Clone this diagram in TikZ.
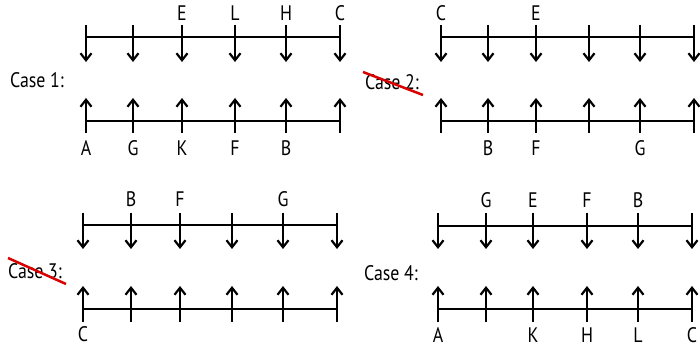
\documentclass[tikz,border=0pt]{standalone}
\usepackage{fontspec}
\setmainfont[FakeStretch=0.85]{PT Sans}
\usetikzlibrary{arrows.meta}
\tikzset{
  flow/.style={line width=2.2pt, -{Straight Barb[length=7pt,width=11pt,line width=2.2pt]}},
  axis/.style={line width=2.2pt},
  lbl/.style={font=\fontsize{21}{24}\selectfont, inner sep=0pt},
  strike/.style={red!85!black, line width=2.5pt}
}

\begin{document}
\begin{tikzpicture}[x=1pt,y=-1pt]
\useasboundingbox (0,0) rectangle (700,352);

% case 1
\foreach \x [count=\i] in {86,133,182,235,286,340} {
  \coordinate (p1t\i) at (\x,25);
  \coordinate (p1d\i) at (\x,62);
  \coordinate (p1u\i) at (\x,98);
  \coordinate (p1b\i) at (\x,133);
  \draw[flow] (p1t\i) -- (p1d\i);
  \draw[flow] (p1b\i) -- (p1u\i);
}
\coordinate (p1l) at (86,37);   \coordinate (p1r) at (340,37);
\coordinate (p1ll) at (86,121); \coordinate (p1rr) at (340,121);
\draw[axis] (p1l) -- (p1r);
\draw[axis] (p1ll) -- (p1rr);
\foreach \n/\t in {3/E,4/L,5/H,6/C}
  \node[lbl] (c1up\n) at ([yshift=12pt]p1t\n) {\t};
\foreach \n/\t in {1/A,2/G,3/K,4/F,5/B}
  \node[lbl] (c1dn\n) at ([yshift=-15pt]p1b\n) {\t};
\node[lbl] (case1) at (37,80) {Case 1:};

% case 2
\foreach \x [count=\i] in {441,488,536,589,640,694} {
  \coordinate (p2t\i) at (\x,25);
  \coordinate (p2d\i) at (\x,62);
  \coordinate (p2u\i) at (\x,98);
  \coordinate (p2b\i) at (\x,133);
  \draw[flow] (p2t\i) -- (p2d\i);
  \draw[flow] (p2b\i) -- (p2u\i);
}
\coordinate (p2l) at (441,37);   \coordinate (p2r) at (694,37);
\coordinate (p2ll) at (441,121); \coordinate (p2rr) at (694,121);
\draw[axis] (p2l) -- (p2r);
\draw[axis] (p2ll) -- (p2rr);
\foreach \n/\t in {1/C,3/E}
  \node[lbl] (c2up\n) at ([yshift=12pt]p2t\n) {\t};
\foreach \n/\t in {2/B,3/F,5/G}
  \node[lbl] (c2dn\n) at ([yshift=-15pt]p2b\n) {\t};
\node[lbl] (case2) at (392,82) {Case 2:};
\draw[strike] ([shift={(-29,-10)}]case2.center) -- ([shift={(31,13)}]case2.center);

% case 3
\foreach \x [count=\i] in {83,131,180,232,283,337} {
  \coordinate (p3t\i) at (\x,213);
  \coordinate (p3d\i) at (\x,249);
  \coordinate (p3u\i) at (\x,286);
  \coordinate (p3b\i) at (\x,322);
  \draw[flow] (p3t\i) -- (p3d\i);
  \draw[flow] (p3b\i) -- (p3u\i);
}
\coordinate (p3l) at (83,225);   \coordinate (p3r) at (337,225);
\coordinate (p3ll) at (83,309);  \coordinate (p3rr) at (337,309);
\draw[axis] (p3l) -- (p3r);
\draw[axis] (p3ll) -- (p3rr);
\foreach \n/\t in {2/B,3/F,5/G}
  \node[lbl] (c3up\n) at ([yshift=14pt]p3t\n) {\t};
\node[lbl] (c3dn1) at ([yshift=-12pt]p3b1) {C};
\node[lbl] (case3) at (35,271) {Case 3:};
\draw[strike] ([shift={(-27,-13)}]case3.center) -- ([shift={(31,13)}]case3.center);

% case 4
\foreach \x [count=\i] in {438,486,533,587,638,692} {
  \coordinate (p4t\i) at (\x,213);
  \coordinate (p4d\i) at (\x,249);
  \coordinate (p4u\i) at (\x,286);
  \coordinate (p4b\i) at (\x,322);
  \draw[flow] (p4t\i) -- (p4d\i);
  \draw[flow] (p4b\i) -- (p4u\i);
}
\coordinate (p4l) at (438,226);  \coordinate (p4r) at (692,226);
\coordinate (p4ll) at (438,309); \coordinate (p4rr) at (692,309);
\draw[axis] (p4l) -- (p4r);
\draw[axis] (p4ll) -- (p4rr);
\foreach \n/\t in {2/G,3/E,4/F,5/B}
  \node[lbl] (c4up\n) at ([yshift=13pt]p4t\n) {\t};
\foreach \n/\t in {1/A,3/K,4/H,5/L,6/C}
  \node[lbl] (c4dn\n) at ([yshift=-13pt]p4b\n) {\t};
\node[lbl] (case4) at (391,273) {Case 4:};
\end{tikzpicture}
\end{document}
